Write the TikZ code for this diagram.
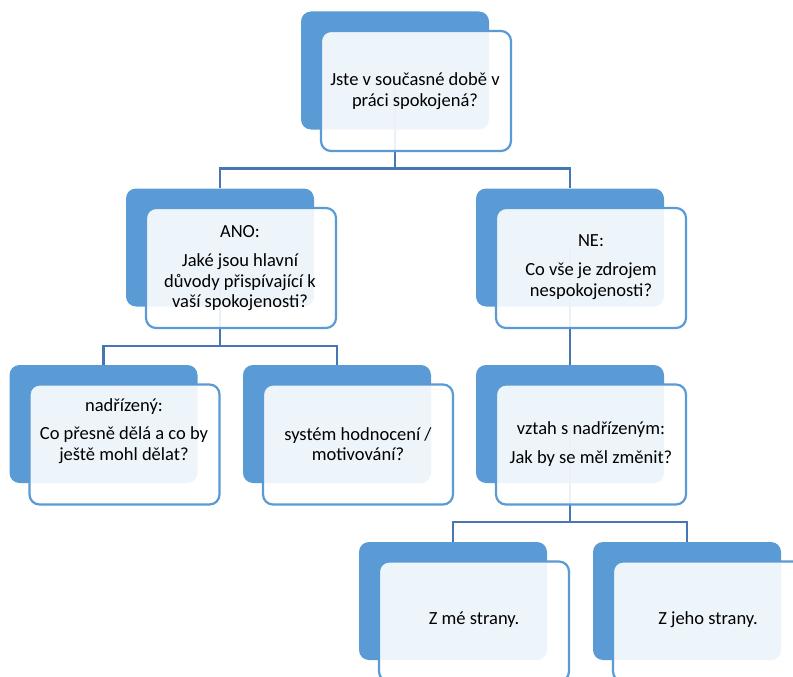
\documentclass[tikz,border=0pt]{standalone}
\usepackage{fontspec}
\setmainfont{Carlito}
\definecolor{boxblue}{RGB}{91,155,213}
\definecolor{connblue}{RGB}{70,119,178}
\begin{document}
\begin{tikzpicture}[x=1pt,y=-1pt,
  backbox/.style={fill=boxblue, draw=none, rounded corners=10pt, minimum width=188pt, minimum height=118pt, inner sep=0pt},
  frontbox/.style={draw=boxblue, line width=2.2pt, fill=white, fill opacity=0.9, rounded corners=10pt, minimum width=190pt, minimum height=120pt, inner sep=0pt},
  conn/.style={draw=connblue, line width=2.6pt},
  label/.style={align=center, inner sep=0pt, text=black, font=\fontsize{18.5}{20.5}\selectfont}]
\clip (0,0) rectangle (793,677);
\fill[white] (0,0) rectangle (793,677);
% back boxes
\node[backbox] (b1) at (395,70.5) {};
\node[backbox] (b2) at (220,247.5) {};
\node[backbox] (b3) at (570,247.5) {};
\node[backbox] (b4) at (103.5,424) {};
\node[backbox] (b5) at (337,424) {};
\node[backbox] (b6) at (570,424) {};
\node[backbox] (b7) at (453,601) {};
\node[backbox] (b8) at (687,601) {};
% bus coordinates
\coordinate (bus1) at (395,168.5);
\coordinate (bus2) at (220,346);
\coordinate (bus3) at (570,522);
% connectors
\draw[conn] (b1.center) -- (bus1);
\draw[conn] (b2.north) |- (bus1) -| (b3.north);
\draw[conn] (b2.center) -- (bus2);
\draw[conn] (b4.north) |- (bus2) -| (b5.north);
\draw[conn] (b3.center) -- (b6.north);
\draw[conn] (b6.center) -- (bus3);
\draw[conn] (b7.north) |- (bus3) -| (b8.north);
% front boxes
\node[frontbox] (f1) at (416,91) {};
\node[frontbox] (f2) at (241,268) {};
\node[frontbox] (f3) at (591,268) {};
\node[frontbox] (f4) at (124.5,444.5) {};
\node[frontbox] (f5) at (358,444.5) {};
\node[frontbox] (f6) at (591,444.5) {};
\node[frontbox] (f7) at (474,621.5) {};
\node[frontbox] (f8) at (708,621.5) {};
% texts
\node[label] (t1) at (415,91) {Jste v současné době v\\práci spokojená?};
\node[label] (t2) at (240,268) {ANO:\\[9pt]Jaké jsou hlavní\\důvody přispívající k\\vaší spokojenosti?};
\node[label] (t3) at (591,267) {NE:\\[9pt]Co vše je zdrojem\\nespokojenosti?};
\node[label] (t4) at (124,431) {nadřízený:\\[8pt]Co přesně dělá a co by\\ještě mohl dělat?};
\node[label] (t5) at (358,444) {systém hodnocení /\\motivování?};
\node[label] (t6) at (591,444) {vztah s nadřízeným:\\[9pt]Jak by se měl změnit?};
\node[label] (t7) at (474,620) {Z mé strany.};
\node[label] (t8) at (708,620) {Z jeho strany.};
\end{tikzpicture}
\end{document}
